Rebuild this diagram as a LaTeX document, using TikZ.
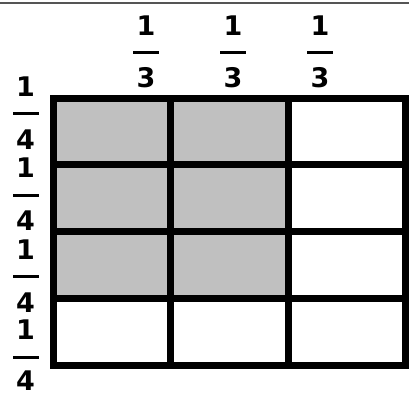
\documentclass[tikz,border=0pt]{standalone}
\usepackage{fontspec}
\newfontfamily\digitfont{DejaVu Sans}
\definecolor{cellgray}{HTML}{C0C0C0}
\definecolor{rulegray}{HTML}{555555}
\tikzset{every node/.style={font=\digitfont\bfseries\fontsize{27}{27}\selectfont},
  every label/.style={inner sep=0pt},
  fracbar/.style={fill=black,inner sep=0pt,minimum width=26pt,minimum height=3pt},
  gridline/.style={draw=black,line width=7pt},
  toprule/.style={draw=rulegray,line width=2.5pt}}

\begin{document}
\begin{tikzpicture}[x=1pt,y=-1pt]
\useasboundingbox (0,0) rectangle (409,395);
\draw[toprule] (0,3)--(409,3);
% shaded part: two thirds of three quarters
\fill[cellgray] (53,98.3) rectangle (288,298.3);
\draw[gridline] (53,98.3) rectangle (405.5,365);
\draw[gridline] (170.5,98.3)--(170.5,365);\draw[gridline] (288,98.3)--(288,365);
\draw[gridline] (53,165)--(405.5,165);\draw[gridline] (53,231.7)--(405.5,231.7);
\draw[gridline] (53,298.3)--(405.5,298.3);
% column fractions
\node[fracbar,label={[label distance=15.5pt]above:1},label={[label distance=13pt]below:3}] (third1) at (146,53) {};
\node[fracbar,label={[label distance=15.5pt]above:1},label={[label distance=13pt]below:3}] (third2) at (233,53) {};
\node[fracbar,label={[label distance=15.5pt]above:1},label={[label distance=13pt]below:3}] (third3) at (320,53) {};
% row fractions
\node[fracbar,label={[label distance=15.5pt]above:1},label={[label distance=14pt]below:4}] (quarter1) at (25.5,114) {};
\node[fracbar,label={[label distance=15.5pt]above:1},label={[label distance=14pt]below:4}] (quarter2) at (25.5,195.3) {};
\node[fracbar,label={[label distance=15.5pt]above:1},label={[label distance=14pt]below:4}] (quarter3) at (25.5,276.7) {};
\node[fracbar,label={[label distance=15.5pt]above:1},label={[label distance=11.5pt]below:4}] (quarter4) at (25.5,357) {};
\end{tikzpicture}
\end{document}
